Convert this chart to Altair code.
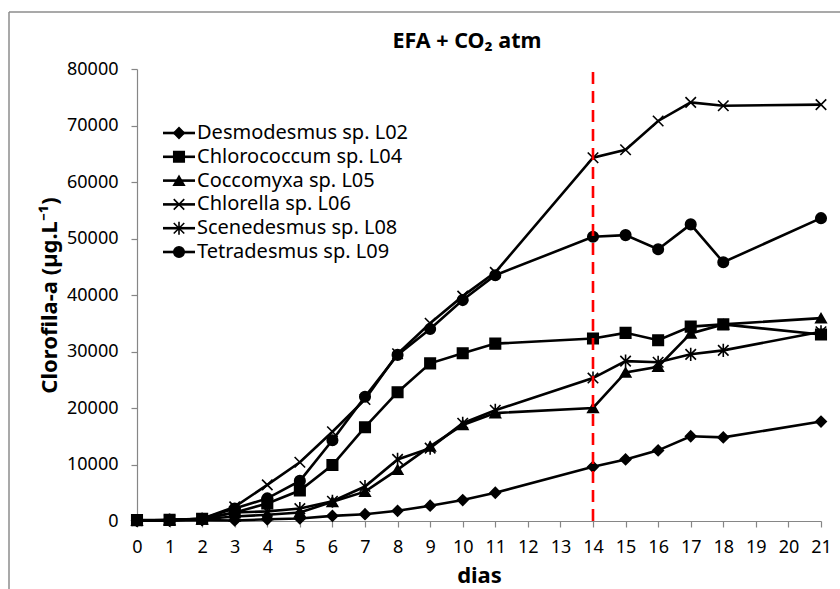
import altair as alt
import pandas as pd

# Sampling days and chlorophyll-a readings (µg/L) per strain
days = [0, 1, 2, 3, 4, 5, 6, 7, 8, 9, 10, 11, 14, 15, 16, 17, 18, 21]

series_names = [
    "Desmodesmus sp. L02",
    "Chlorococcum sp. L04",
    "Coccomyxa sp. L05",
    "Chlorella sp. L06",
    "Scenedesmus sp. L08",
    "Tetradesmus sp. L09",
]

desmodesmus_l02 = [100, 100, 150, 100, 300, 450, 900, 1200, 1800, 2700, 3700, 5000, 9600, 10900, 12500, 15000, 14800, 17600]
chlorococcum_l04 = [150, 200, 400, 1500, 3100, 5400, 9900, 16600, 22800, 27900, 29700, 31400, 32300, 33300, 32000, 34400, 34800, 33000]
coccomyxa_l05 = [100, 150, 300, 800, 1100, 1500, 3400, 5200, 9100, 13200, 17000, 19100, 20000, 26300, 27300, 33200, 34800, 35900]
chlorella_l06 = [100, 150, 400, 2500, 6400, 10400, 15800, 21500, 29600, 35000, 39800, 44000, 64300, 65700, 70800, 74100, 73500, 73700]
scenedesmus_l08 = [100, 150, 300, 1500, 1700, 2200, 3500, 6100, 10900, 12900, 17300, 19600, 25300, 28300, 28100, 29500, 30200, 33500]
tetradesmus_l09 = [100, 150, 400, 2200, 4000, 7100, 14300, 22000, 29400, 34000, 39100, 43500, 50300, 50600, 48100, 52500, 45800, 53600]

series_values = [desmodesmus_l02, chlorococcum_l04, coccomyxa_l05,
                 chlorella_l06, scenedesmus_l08, tetradesmus_l09]

marker_day = [14]
x_ticks = list(range(0, 22))
y_ticks = list(range(0, 80001, 10000))
chart_title = "EFA + CO₂ atm"

# Marker shapes: diamond, square, triangle, X, asterisk, circle
x_path = "M-1,-1L1,1M-1,1L1,-1"
star_path = "M-1,-1L1,1M-1,1L1,-1M0,-1.25L0,1.25"
shapes = ["diamond", "square", "triangle-up", x_path, star_path, "circle"]

rows = []
for name, vals in zip(series_names, series_values):
    for d, v in zip(days, vals):
        rows.append({"serie": name, "dia": d, "valor": v})
df = pd.DataFrame(rows)
legend_df = pd.DataFrame({"serie": series_names})
vline_df = pd.DataFrame({"dia": marker_day, "valor": [0], "y1": [80000]})
title_df = pd.DataFrame({"t": [chart_title]})

FONT = "Noto Sans"

x_enc = alt.X("dia:Q",
              scale=alt.Scale(domain=[0, 21], nice=False, zero=False),
              axis=alt.Axis(values=x_ticks, title="dias", format="d",
                            labelOverlap=False, labelFlush=False, tickCount=22))
y_enc = alt.Y("valor:Q",
              scale=alt.Scale(domain=[0, 80000], nice=False),
              axis=alt.Axis(values=y_ticks, format="d", labelOverlap=False,
                            labelFlush=False,
                            title="Clorofila-a  (µg.L⁻¹)"))
shape_enc = alt.Shape("serie:N", scale=alt.Scale(domain=series_names, range=shapes),
                      legend=None)

base = alt.Chart(df)

lines = base.mark_line(color="black", strokeWidth=2.6).encode(
    x=x_enc, y=y_enc, detail="serie:N", order="dia:Q")

points = base.mark_point(fill="black", stroke="black", strokeWidth=1.6,
                         opacity=1, fillOpacity=1, size=110).encode(
    x=x_enc, y=y_enc, shape=shape_enc)

vline = alt.Chart(vline_df).mark_rule(color="#FF0000", strokeWidth=2.6,
                                      strokeDash=[12, 7]).encode(
    x=x_enc, y=y_enc, y2="y1:Q")

# Legend rows drawn as line + marker + label
leg_y = alt.Y("serie:N", sort=series_names, axis=None,
              scale=alt.Scale(type="point", range=[64, 183], padding=0))
leg_line = alt.Chart(legend_df).mark_rule(color="black", strokeWidth=2.6).encode(
    x=alt.value(26), x2=alt.value(58), y=leg_y)
leg_pts = alt.Chart(legend_df).mark_point(fill="black", stroke="black", strokeWidth=1.6,
                                          opacity=1, fillOpacity=1, size=110).encode(
    x=alt.value(42), y=leg_y, shape=shape_enc)
leg_txt = alt.Chart(legend_df).mark_text(align="left", baseline="middle", font=FONT,
                                         fontSize=20, color="black").encode(
    x=alt.value(60), y=leg_y, text="serie:N")
legend = alt.layer(leg_line, leg_pts, leg_txt)

# Chart heading
heading = alt.Chart(title_df).mark_text(align="center", baseline="middle", font=FONT,
                                        fontSize=21.5, fontWeight="bold",
                                        color="black").encode(
    x=alt.value(330), y=alt.value(-27), text="t:N")

# Outer chart frame (top and left edges)
frame_top = alt.Chart(title_df).mark_rule(color="#8c8c8c", strokeWidth=1.5).encode(
    x=alt.value(-128), x2=alt.value(720), y=alt.value(-57))
frame_left = alt.Chart(title_df).mark_rule(color="#8c8c8c", strokeWidth=1.5).encode(
    x=alt.value(-128), y=alt.value(-57), y2=alt.value(530))

main = alt.layer(lines, points, vline)

chart = alt.layer(main, frame_top, frame_left, heading, legend).resolve_scale(
    y="independent"
).properties(
    width=684, height=452,
    autosize=alt.AutoSizeParams(type="none"),
    padding={"left": 137, "top": 69, "right": 19, "bottom": 68},
).configure_view(stroke=None).configure_axis(
    labelFont=FONT, labelFontSize=18, labelColor="black",
    titleFont=FONT, titleFontSize=22, titleFontWeight="bold", titleColor="black",
    domainColor="#868686", tickColor="#868686", domainWidth=1.2, tickWidth=1.2,
    grid=False,
).configure_axisY(
    tickSize=6, labelPadding=13, titlePadding=5,
).configure_axisX(
    tickSize=6, labelPadding=11, titlePadding=9, labelAngle=0,
)

chart.save("out.html", embed_options={"renderer": "svg", "actions": False})
